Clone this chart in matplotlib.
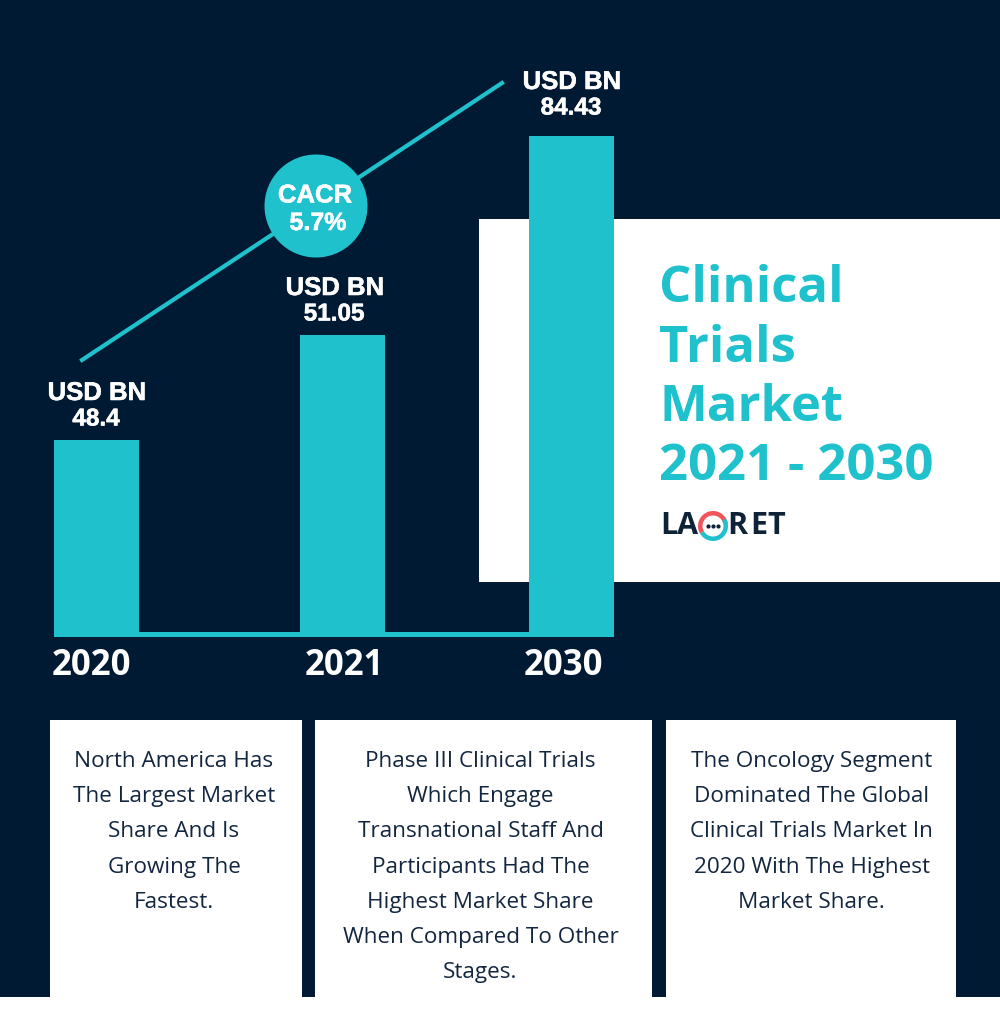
import matplotlib
matplotlib.use("Agg")
import matplotlib.pyplot as plt
import matplotlib.patheffects as pe
from matplotlib.patches import Rectangle, Circle, Wedge

# colori
navy = "#011A33"
teal = "#1FC1CC"
red = "#F0555A"

# dati
years = ["2020", "2021", "2030"]
values = ["48.4", "51.05", "84.43"]
bar_lefts = [54, 300, 529]
bar_tops = [440, 335, 136]
year_x = [91.5, 344, 563]
label_x = [97, 335, 572]
label_y = [392, 287, 81]
title_lines = ["Clinical", "Trials", "Market", "2021 - 2030"]
logo_letters = ["L", "A", "R", "E", "T"]
logo_x = [660, 677, 727, 750, 767]
box_texts = [
    ["North America Has", "The Largest Market", "Share And Is", "Growing The", "Fastest."],
    ["Phase III Clinical Trials", "Which Engage", "Transnational Staff And", "Participants Had The",
     "Highest Market Share", "When Compared To Other", "Stages."],
    ["The Oncology Segment", "Dominated The Global", "Clinical Trials Market In", "2020 With The Highest",
     "Market Share."],
]
box_lefts = [50, 315, 666]
box_rights = [302, 652, 956]
box_text_x = [174, 480.5, 811.5]

baseline = 637
bar_w = 85

fig = plt.figure(figsize=(10, 10.24), dpi=100, facecolor="white")
ax = fig.add_axes([0, 0, 1, 1])
ax.set_xlim(0, 1000)
ax.set_ylim(1024, 0)
ax.axis("off")

# sfondo
ax.add_patch(Rectangle((0, 0), 1000, 997, fc=navy, lw=0, zorder=0))
ax.add_patch(Rectangle((479, 219), 521, 363, fc="white", lw=0, zorder=1))

# barre e linea di base
ax.bar(bar_lefts, [baseline - t for t in bar_tops], width=bar_w, bottom=bar_tops,
       align="edge", color=teal, lw=0, zorder=3)
ax.add_patch(Rectangle((54, 632), 560, 5, fc=teal, lw=0, zorder=3))

# freccia e cerchio
ax.plot([82, 502], [360, 83], color=teal, lw=3, zorder=2)
ax.add_patch(Circle((316, 206), 51.5, fc=teal, lw=0, zorder=4))

# testo piu' pesante come nell'originale
heavy = [pe.withStroke(linewidth=0.4, foreground="white")]


def bold_label(x, y, s, size):
    ax.text(x, y, s, color="white", fontsize=size, fontweight="bold", family="Liberation Sans",
            ha="center", va="center", zorder=5, path_effects=heavy)


bold_label(315, 195.5, "CACR", 18.5)
bold_label(318, 223, "5.7%", 18)

for x, y, v in zip(label_x, label_y, values):
    bold_label(x, y + 1, "USD BN", 18.5)
    bold_label(x - 1, y + 27, v, 17.5)

for x, yr in zip(year_x, years):
    ax.text(x, 666, yr, color="white", fontsize=25, fontweight="bold",
            family="Open Sans", ha="center", va="center", zorder=5)

# titolo
for i, line in enumerate(title_lines):
    ax.text(659, 289 + i * 59.5, line, color=teal, fontsize=36.5, fontweight="bold",
            family="Open Sans", ha="left", va="center", zorder=5)

# logo
for x, letter in zip(logo_x, logo_letters):
    ax.text(x, 526, letter, color="#0E2238", fontsize=22, fontweight="bold", family="Open Sans",
            ha="left", va="center", zorder=5)
ax.add_patch(Wedge((713, 526), 15, 150, 350, width=4.5, fc=red, lw=0, zorder=5))
ax.add_patch(Wedge((713, 526), 15, -30, 150, width=4.5, fc=teal, lw=0, zorder=5))
ax.plot([708, 713, 718], [526, 526, 526], ls="none", marker="o", ms=2, color="#0E2238", zorder=5)

# riquadri di testo
for left, right, cx, lines in zip(box_lefts, box_rights, box_text_x, box_texts):
    ax.add_patch(Rectangle((left, 720), right - left, 277, fc="white", lw=0, zorder=1))
    for i, line in enumerate(lines):
        ax.text(cx, 761.5 + i * 35.2, line, color="#12263F", fontsize=16.2,
                family="Open Sans", ha="center", va="center", zorder=5)

fig.savefig("out.png", dpi=100)
